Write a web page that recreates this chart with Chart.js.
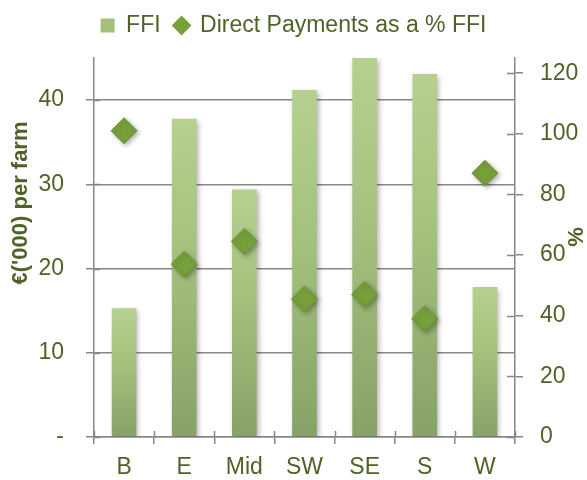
<!DOCTYPE html>
<html>
<head>
<meta charset="utf-8">
<script src="https://cdn.jsdelivr.net/npm/chart.js@4/dist/chart.umd.min.js"></script>
<style>
  html, body { margin: 0; padding: 0; background: #fff; }
  #wrap { width: 587px; height: 480px; }
</style>
</head>
<body>
<div id="wrap"><canvas id="chart" width="587" height="480"></canvas></div>
<script>
// Datos
const regions = ['B', 'E', 'Mid', 'SW', 'SE', 'S', 'W'];
const ffi = [15.3, 37.8, 29.4, 41.2, 45.0, 43.1, 17.8];          // €('000) por explotación
const directPct = [101, 57, 64.5, 45.5, 47, 39, 87];               // % del FFI

const TEXT = '#4f6228';
const AXIS = '#878787';
const FONT = 'Liberation Sans';

// Sombra suave bajo barras y rombos
const shadowPlugin = {
    id: 'shadow',
    beforeDatasetDraw(chart) {
        const c = chart.ctx;
        c.save();
        c.shadowColor = 'rgba(0,0,0,0.30)';
        c.shadowBlur = 5;
        c.shadowOffsetX = 2;
        c.shadowOffsetY = 2;
    },
    afterDatasetDraw(chart) {
        chart.ctx.restore();
    }
};

// Más espacio bajo la leyenda
const legendSpace = {
    id: 'legendSpace',
    afterInit(chart) {
        const lg = chart.legend;
        if (!lg) return;
        const orig = lg.fit;
        lg.fit = function () {
            orig.call(this);
            this.height += 11;
        };
    }
};

// Marcas que cruzan los ejes y títulos de los ejes
const axisExtras = {
    id: 'axisExtras',
    afterDraw(chart) {
        const c = chart.ctx;
        const x = chart.scales.x, y1 = chart.scales.y1, y = chart.scales.y;
        const area = chart.chartArea;
        c.save();
        c.strokeStyle = AXIS;
        c.lineWidth = 1.5;
        c.beginPath();
        y1.ticks.forEach(t => {
            const py = Math.round(y1.getPixelForValue(t.value)) + 0.5;
            c.moveTo(area.right - 8, py);
            c.lineTo(area.right, py);
        });
        for (let i = 0; i <= regions.length; i++) {
            const px = Math.round(x.getPixelForValue(i - 0.5)) + 0.5;
            c.moveTo(px, area.bottom - 6);
            c.lineTo(px, area.bottom);
        }
        y.ticks.forEach(t => {
            const py = Math.round(y.getPixelForValue(t.value)) + 0.5;
            c.moveTo(area.left, py);
            c.lineTo(area.left + 6, py);
        });
        c.stroke();

        c.fillStyle = TEXT;
        c.textAlign = 'center';
        c.textBaseline = 'middle';
        c.font = 'bold 22px "' + FONT + '"';
        c.translate(21, 203);
        c.rotate(-Math.PI / 2);
        c.fillText("€('000) per farm", 0, 0);
        c.setTransform(1, 0, 0, 1, 0, 0);
        c.translate(577, 237);
        c.rotate(-Math.PI / 2);
        c.fillText('%', 0, 0);
        c.restore();
    }
};

function barGradient(context) {
    const chart = context.chart;
    if (!chart.chartArea) return '#a3bf7c';
    const v = context.raw;
    const yTop = chart.scales.y.getPixelForValue(v);
    const yBot = chart.scales.y.getPixelForValue(0);
    const g = chart.ctx.createLinearGradient(0, yTop, 0, yBot);
    g.addColorStop(0, '#b6d18f');
    g.addColorStop(0.45, '#a4c07d');
    g.addColorStop(1, '#87a266');
    return g;
}

new Chart(document.getElementById('chart'), {
    type: 'bar',
    data: {
        labels: regions,
        datasets: [{
            type: 'line',
            label: 'Direct Payments as a % FFI',
            data: directPct,
            yAxisID: 'y1',
            showLine: false,
            pointStyle: 'rectRot',
            pointRadius: 13,
            pointHoverRadius: 13,
            backgroundColor: '#77a03b',
            borderColor: '#6a9233',
            borderWidth: 1,
            order: 0
        }, {
            type: 'bar',
            label: 'FFI',
            data: ffi,
            yAxisID: 'y',
            backgroundColor: barGradient,
            categoryPercentage: 1,
            barPercentage: 0.41,
            order: 1
        }]
    },
    plugins: [shadowPlugin, legendSpace, axisExtras],
    options: {
        responsive: false,
        animation: false,
        devicePixelRatio: 1,
        layout: { padding: 0 },
        plugins: {
            tooltip: { enabled: false },
            legend: {
                position: 'top',
                labels: {
                    color: TEXT,
                    font: { family: FONT, size: 23 },
                    usePointStyle: true,
                    boxWidth: 14,
                    boxHeight: 14,
                    padding: 14,
                    generateLabels() {
                        return [{
                            text: 'FFI', fillStyle: '#a3c07c', strokeStyle: '#a3c07c',
                            lineWidth: 0, pointStyle: 'rect', fontColor: TEXT, datasetIndex: 1
                        }, {
                            text: 'Direct Payments as a % FFI', fillStyle: '#77a03b', strokeStyle: '#77a03b',
                            lineWidth: 0, pointStyle: 'rectRot', fontColor: TEXT, datasetIndex: 0
                        }];
                    }
                }
            }
        },
        scales: {
            x: {
                offset: true,
                grid: {
                    offset: true,
                    drawOnChartArea: false,
                    color: AXIS,
                    lineWidth: 1.5,
                    tickLength: 7
                },
                border: { color: AXIS, width: 1.5 },
                ticks: { color: TEXT, font: { family: FONT, size: 23 }, padding: 10 },
                afterFit(s) { s.height = 43; }
            },
            y: {
                position: 'left',
                min: 0,
                max: 45,
                afterBuildTicks(s) { s.ticks = s.ticks.filter(t => t.value <= 40); },
                ticks: {
                    stepSize: 10,
                    includeBounds: false,
                    color: TEXT,
                    font: { family: FONT, size: 23 },
                    padding: 22,
                    callback: v => v === 0 ? '-' : v
                },
                grid: { color: AXIS, lineWidth: 1.5, tickLength: 8 },
                border: { color: AXIS, width: 1.5 },
                afterFit(s) { s.width = 94; }
            },
            y1: {
                position: 'right',
                min: 0,
                max: 125,
                afterBuildTicks(s) { s.ticks = s.ticks.filter(t => t.value <= 120); },
                ticks: {
                    stepSize: 20,
                    includeBounds: false,
                    color: TEXT,
                    font: { family: FONT, size: 23 },
                    padding: 17
                },
                grid: { drawOnChartArea: false, color: AXIS, lineWidth: 1.5, tickLength: 8 },
                border: { color: AXIS, width: 1.5 },
                afterFit(s) { s.width = 72; }
            }
        }
    }
});
</script>
</body>
</html>
